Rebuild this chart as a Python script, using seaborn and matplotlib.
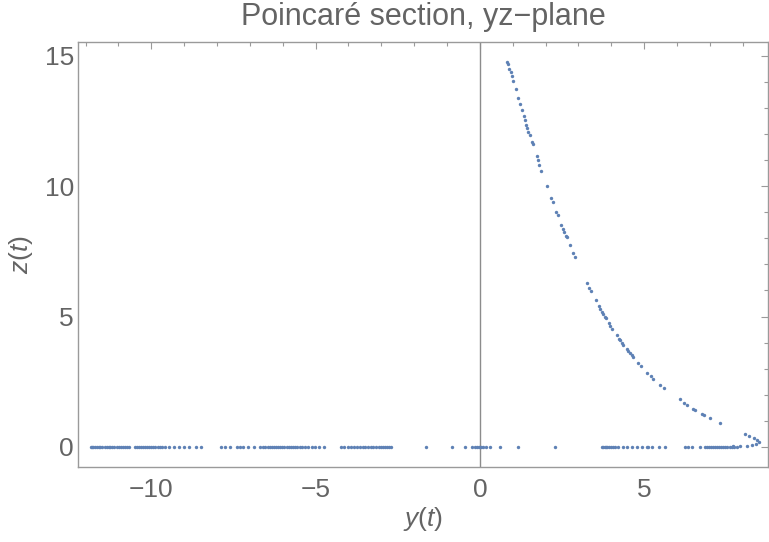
# Poincare section of a trajectory, yz-plane
import numpy as np
import pandas as pd
import seaborn as sns
import matplotlib.pyplot as plt
from matplotlib.ticker import MultipleLocator

# points lying on the z = 0 line (y values)
flat_y = [-11.84, -11.80, -11.76, -11.71, -11.66, -11.60, -11.55, -11.49, -11.42, -11.36,
          -11.30, -11.25, -11.19, -11.12, -11.05, -10.98, -10.92, -10.86, -10.80, -10.73,
          -10.67, -10.49, -10.44, -10.38, -10.31, -10.25, -10.18, -10.12, -10.06, -10.01,
          -9.95, -9.88, -9.81, -9.74, -9.66, -9.58, -9.47, -9.30, -9.15, -9.00,
          -8.84, -8.64, -8.48, -7.88, -7.77, -7.59, -7.38, -7.30, -7.21, -7.07,
          -6.86, -6.70, -6.60, -6.53, -6.46, -6.40, -6.33, -6.27, -6.20, -6.14,
          -6.07, -6.01, -5.95, -5.88, -5.82, -5.75, -5.69, -5.62, -5.55, -5.48,
          -5.40, -5.31, -5.22, -5.12, -5.03, -4.88, -4.73, -4.22, -4.12, -4.02,
          -3.93, -3.84, -3.75, -3.66, -3.57, -3.48, -3.40, -3.32, -3.24, -3.16,
          -3.08, -3.00, -2.94, -2.88, -2.82, -2.76, -2.69, -1.63, -0.86, -0.46,
          -0.25, -0.15, -0.08, -0.02, 0.04, 0.10, 0.20, 0.30, 0.61, 1.17,
          2.29, 3.72, 3.76, 3.80, 3.84, 3.88, 3.93, 3.98, 4.04, 4.12,
          4.22, 4.35, 4.48, 4.62, 4.78, 4.93, 5.08, 5.13, 5.23, 5.44,
          5.64, 6.25, 6.35, 6.45, 6.70, 6.86, 6.92, 6.98, 7.04, 7.10,
          7.16, 7.22, 7.28, 7.34, 7.40, 7.46, 7.52, 7.60, 7.67, 7.75, 7.83]

# the descending branch
curve_y = [0.84, 0.86, 0.89, 0.94, 0.99, 1.02, 1.10, 1.17, 1.23, 1.29,
           1.33, 1.37, 1.41, 1.44, 1.48, 1.52, 1.58, 1.62, 1.73, 1.77,
           1.81, 1.86, 2.04, 2.17, 2.22, 2.33, 2.37, 2.48, 2.52, 2.56,
           2.61, 2.64, 2.74, 2.84, 2.89, 3.26, 3.32, 3.37, 3.54, 3.62,
           3.66, 3.72, 3.76, 3.80, 3.84, 3.93, 3.97, 4.03, 4.17, 4.23,
           4.27, 4.32, 4.37, 4.47, 4.52, 4.57, 4.63, 4.67, 4.82, 4.90,
           5.10, 5.20, 5.26, 5.47, 5.61, 6.09, 6.21, 6.30, 6.50, 6.55,
           6.76, 6.83, 6.99, 7.30,
           8.08, 8.18, 8.33, 8.44, 8.49, 8.41, 8.28, 8.13, 7.93, 7.72]
curve_z = [14.78, 14.69, 14.50, 14.37, 14.24, 14.03, 13.73, 13.38, 13.15, 12.92,
           12.69, 12.55, 12.36, 12.22, 12.09, 11.96, 11.68, 11.60, 11.15, 11.00,
           10.83, 10.60, 10.00, 9.54, 9.41, 9.00, 8.88, 8.51, 8.37, 8.24,
           8.09, 8.04, 7.73, 7.42, 7.29, 6.27, 6.10, 5.97, 5.63, 5.42,
           5.30, 5.17, 5.08, 4.99, 4.95, 4.76, 4.65, 4.54, 4.31, 4.15,
           4.09, 3.99, 3.90, 3.77, 3.69, 3.60, 3.51, 3.43, 3.23, 3.12,
           2.85, 2.73, 2.62, 2.38, 2.27, 1.82, 1.69, 1.62, 1.46, 1.42,
           1.27, 1.23, 1.12, 0.92,
           0.49, 0.42, 0.36, 0.27, 0.18, 0.10, 0.08, 0.05, 0.04, 0.02]

df = pd.DataFrame({
    "y": flat_y + curve_y,
    "z": [0.0] * len(flat_y) + curve_z,
})

sns.set_style("white")
plt.rcParams['font.family'] = ['Liberation Sans', 'DejaVu Sans']
plt.rcParams['mathtext.fontset'] = 'custom'
plt.rcParams['mathtext.it'] = 'Liberation Sans:italic'
plt.rcParams['mathtext.rm'] = 'Liberation Sans'

text_col = "#646464"
frame_col = "#9a9a9a"

fig = plt.figure(figsize=(7.69, 5.42), dpi=100)
ax = fig.add_axes([78 / 769, 1 - 467 / 542, 690 / 769, 425 / 542])

ax.axvline(0, color="#8c8c8c", lw=1.0, zorder=1)
sns.scatterplot(data=df, x="y", y="z", ax=ax, s=6, color="#5E81B5",
                linewidth=0, zorder=3)

ax.set_xlim(-12.23, 8.77)
ax.set_ylim(-0.77, 15.53)
ax.xaxis.set_major_locator(MultipleLocator(5))
ax.xaxis.set_minor_locator(MultipleLocator(1))
ax.yaxis.set_major_locator(MultipleLocator(5))
ax.yaxis.set_minor_locator(MultipleLocator(1))

for sp in ax.spines.values():
    sp.set_color(frame_col)
    sp.set_linewidth(1.0)

ax.tick_params(which="both", direction="in", top=True, right=True,
               color=frame_col, width=0.8)
ax.tick_params(which="major", length=5)
ax.tick_params(which="minor", length=3)
ax.tick_params(axis="x", which="major", labelsize=19, labelcolor=text_col, pad=8)
ax.tick_params(axis="y", which="major", labelsize=19, labelcolor=text_col, pad=3)

ax.set_xlabel(r"$y(t)$", fontsize=19, color=text_col)
ax.set_ylabel(r"$z(t)$", fontsize=19, color=text_col)
ax.xaxis.set_label_coords(0.5, -0.09)
ax.yaxis.set_label_coords(-0.062, 0.5)
ax.set_title("Poincaré section, yz\u2212plane", fontsize=22, color=text_col, pad=12)

fig.savefig("out.png", dpi=100)
